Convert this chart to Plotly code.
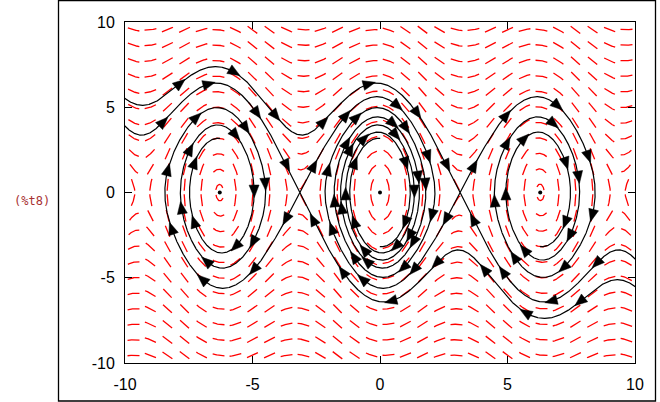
import numpy as np
import plotly.graph_objects as go

# ---------------- data ----------------
X_RANGE = [-10, 10]
Y_RANGE = [-10, 10]
X_TICKS = [-10, -5, 0, 5, 10]
Y_TICKS = [-10, -5, 0, 5, 10]
# damped pendulum  x' = y,  y' = -K_SIN*sin(x) - DAMP*y
K_SIN = 9.0
DAMP = 0.2
CENTER_X = [-2 * np.pi, 0.0, 2 * np.pi]
CENTER_Y = [0.0, 0.0, 0.0]
SADDLE_X = [-np.pi, np.pi]
SADDLE_Y = [0.0, 0.0]
FIELD_NX = 30
FIELD_NY = 22
SOLN_DURATION = 8.8
SADDLE_EPS = 0.01
LABEL = "(%t8)"

# ---------------- geometry ----------------
W, H = 660, 402
ML, MR, MT, MB = 125, 25, 22, 39
PW = W - ML - MR
PH = H - MT - MB
SX = PW / (X_RANGE[1] - X_RANGE[0])
SY = PH / (Y_RANGE[1] - Y_RANGE[0])


def f(x, y):
    return y, -K_SIN * np.sin(x) - DAMP * y


# ---------------- direction field (short solution curves) ----------------
def unit_dir(x, y, sign):
    a, b = f(x, y)
    vx, vy = a * SX, b * SY
    n = np.hypot(vx, vy)
    n = np.where(n == 0, 1, n)
    return sign * vx / n / SX, sign * vy / n / SY


def dash_half(x, y, sign, length, ds=0.5):
    xs, ys = [x.copy()], [y.copy()]
    for _ in range(int(length / ds)):
        k1 = unit_dir(x, y, sign)
        k2 = unit_dir(x + 0.5 * ds * k1[0], y + 0.5 * ds * k1[1], sign)
        x = x + ds * k2[0]
        y = y + ds * k2[1]
        xs.append(x.copy())
        ys.append(y.copy())
    return np.array(xs), np.array(ys)


gx = X_RANGE[0] + (np.arange(FIELD_NX) + 0.5) * (X_RANGE[1] - X_RANGE[0]) / FIELD_NX
gy = Y_RANGE[0] + (np.arange(FIELD_NY) + 0.5) * (Y_RANGE[1] - Y_RANGE[0]) / FIELD_NY
GX, GY = np.meshgrid(gx, gy)
p0x, p0y = GX.ravel(), GY.ravel()
DASH = 12.5
bx, by = dash_half(p0x, p0y, -1, DASH / 2)
fx, fy = dash_half(p0x, p0y, 1, DASH / 2)
field_x, field_y = [], []
for i in range(len(p0x)):
    xx = list(bx[::-1, i]) + list(fx[1:, i])
    yy = list(by[::-1, i]) + list(fy[1:, i])
    field_x += xx + [None]
    field_y += yy + [None]


# ---------------- separatrices ----------------
def rk4(x, y, sign, T, dt=0.002):
    xs, ys = [x], [y]
    n = int(T / dt)
    for _ in range(n):
        def g(a, b):
            u, v = f(a, b)
            return sign * u, sign * v
        k1 = g(x, y)
        k2 = g(x + dt / 2 * k1[0], y + dt / 2 * k1[1])
        k3 = g(x + dt / 2 * k2[0], y + dt / 2 * k2[1])
        k4 = g(x + dt * k3[0], y + dt * k3[1])
        x = x + dt / 6 * (k1[0] + 2 * k2[0] + 2 * k3[0] + k4[0])
        y = y + dt / 6 * (k1[1] + 2 * k2[1] + 2 * k3[1] + k4[1])
        xs.append(x)
        ys.append(y)
        if abs(x) > 11 or abs(y) > 11:
            break
    return np.array(xs), np.array(ys)


curves = []
for sx0, sy0 in zip(SADDLE_X, SADDLE_Y):
    disc = np.sqrt(DAMP ** 2 + 4 * K_SIN)
    lu = (-DAMP + disc) / 2
    ls = (-DAMP - disc) / 2
    for s in (1, -1):
        vu = np.array([1.0, lu]) / np.hypot(1, lu)
        vs = np.array([1.0, ls]) / np.hypot(1, ls)
        cx, cy = rk4(sx0 + s * SADDLE_EPS * vu[0], sy0 + s * SADDLE_EPS * vu[1], 1, SOLN_DURATION)
        curves.append((np.r_[sx0, cx], np.r_[sy0, cy]))
        cx, cy = rk4(sx0 + s * SADDLE_EPS * vs[0], sy0 + s * SADDLE_EPS * vs[1], -1, SOLN_DURATION)
        curves.append((np.r_[sx0, cx], np.r_[sy0, cy]))

traj_x, traj_y = [], []
arr_x, arr_y = [], []
ARROW_GAP = 60.0
ARROW_START = 30.0
for cx, cy in curves:
    traj_x += list(cx) + [None]
    traj_y += list(cy) + [None]
    seg = np.hypot(np.diff(cx) * SX, np.diff(cy) * SY)
    s = np.r_[0, np.cumsum(seg)]
    target = ARROW_START
    while target < s[-1]:
        i = int(np.searchsorted(s, target))
        x, y = cx[i], cy[i]
        if abs(x) < 9.8 and abs(y) < 9.8:
            a, b = f(x, y)
            ux, uy = a * SX, b * SY
            n = np.hypot(ux, uy)
            if n > 0:
                ux, uy = ux / n, uy / n
                nx, ny = -uy, ux
                L1, L2, HW = 6.5, 6.0, 5.0
                tip = (x + L1 * ux / SX, y + L1 * uy / SY)
                b1 = (x + (-L2 * ux + HW * nx) / SX, y + (-L2 * uy + HW * ny) / SY)
                b2 = (x + (-L2 * ux - HW * nx) / SX, y + (-L2 * uy - HW * ny) / SY)
                arr_x += [tip[0], b1[0], b2[0], tip[0], None]
                arr_y += [tip[1], b1[1], b2[1], tip[1], None]
        target += ARROW_GAP

fig = go.Figure()
fig.add_trace(go.Scatter(x=field_x, y=field_y, mode="lines",
                         line=dict(color="#ff0000", width=1.3), hoverinfo="skip"))
fig.add_trace(go.Scatter(x=traj_x, y=traj_y, mode="lines",
                         line=dict(color="black", width=1.2), hoverinfo="skip"))
fig.add_trace(go.Scatter(x=arr_x, y=arr_y, mode="lines", fill="toself",
                         fillcolor="black", line=dict(color="black", width=0.5),
                         hoverinfo="skip"))
fig.add_trace(go.Scatter(x=CENTER_X, y=CENTER_Y, mode="markers",
                         marker=dict(color="black", size=4), hoverinfo="skip"))

axis_common = dict(showline=True, linecolor="black", linewidth=1, mirror="ticks",
                   ticks="inside", ticklen=7, tickcolor="black", tickwidth=1,
                   showgrid=False, zeroline=False,
                   tickfont=dict(family="Liberation Sans", size=16, color="black"))
fig.update_xaxes(range=X_RANGE, tickvals=X_TICKS, ticktext=[str(v) for v in X_TICKS],
                 ticklabelstandoff=7, **axis_common)
fig.update_yaxes(range=Y_RANGE, tickvals=Y_TICKS, ticktext=[str(v) for v in Y_TICKS],
                 ticklabelstandoff=6, **axis_common)

fig.add_shape(type="rect", xref="paper", yref="paper",
              x0=(58.5 - ML) / PW, x1=(655.5 - ML) / PW,
              y0=(H - MB - 401) / PH, y1=(H - MB - 0.5) / PH,
              line=dict(color="black", width=1.3))
fig.add_annotation(text=LABEL, xref="paper", yref="paper",
                   x=(31.5 - ML) / PW, y=(H - MB - 200.5) / PH,
                   xanchor="center", yanchor="middle", showarrow=False,
                   font=dict(family="DejaVu Sans Mono", size=12, color="#a83232"))

fig.update_layout(width=W, height=H, showlegend=False,
                  margin=dict(l=ML, r=MR, t=MT, b=MB, autoexpand=False),
                  plot_bgcolor="white", paper_bgcolor="white")
fig.write_html("out.html", config={"displayModeBar": False},
               post_script="document.body.style.margin='0px';document.body.style.padding='0px';")
